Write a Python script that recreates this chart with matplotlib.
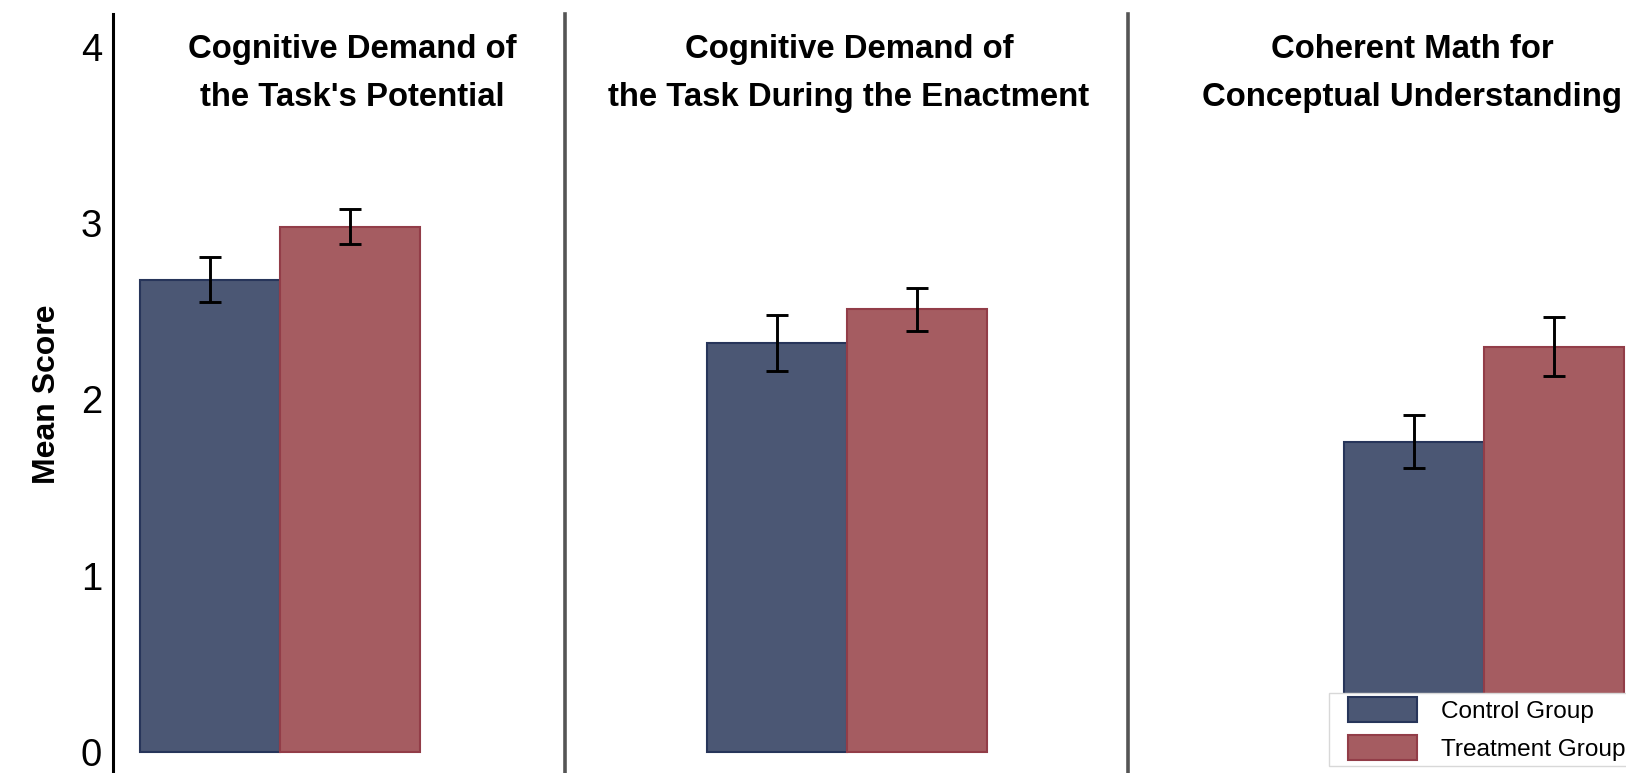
import matplotlib
matplotlib.use("Agg")
import matplotlib.pyplot as plt
from matplotlib.patches import Rectangle
from matplotlib.legend_handler import HandlerPatch

plt.rcParams['font.family'] = ['Liberation Sans', 'DejaVu Sans']

# Data
panel_titles = [
    "Cognitive Demand of\nthe Task's Potential",
    "Cognitive Demand of\nthe Task During the Enactment",
    "Coherent Math for\nConceptual Understanding",
]
groups = ["Control Group", "Treatment Group"]
control_means = [2.68, 2.32, 1.76]
treatment_means = [2.98, 2.51, 2.30]
control_err = [0.125, 0.16, 0.15]
treatment_err = [0.10, 0.12, 0.17]
y_ticks = [0, 1, 2, 3, 4]

# Styling
fill_colors = ["#4b5774", "#a55c61"]
edge_colors = ["#27355a", "#923d48"]
W, H = 1626, 773
fig = plt.figure(figsize=(W / 100, H / 100), dpi=100)

# Panel boxes in pixels (left, right) and x limits in bar-width units
panel_px = [(113, 565), (565, 1128), (1128, 1626)]
panel_xlim = [(-1.193, 2.036), (-2.014, 2.007), (-2.543, 1.014)]
title_x_px = [352, 849, 1412]
ylim = (-0.119, 4.186)
top_frac = 1 - 14 / H

for i in range(3):
    l, r = panel_px[i]
    ax = fig.add_axes([l / W, 0, (r - l) / W, top_frac])
    ax.set_xlim(*panel_xlim[i])
    ax.set_ylim(*ylim)
    means = [control_means[i], treatment_means[i]]
    errs = [control_err[i], treatment_err[i]]
    for j in range(2):
        x = -0.5 + j
        ax.bar(x, means[j], width=1.0, color=fill_colors[j],
               edgecolor=edge_colors[j], linewidth=1.5, zorder=2)
        ax.errorbar(x, means[j], yerr=errs[j], fmt="none", ecolor="black",
                    elinewidth=2.1, capsize=7.6, capthick=2.1, zorder=3)
    for s in ["top", "right", "bottom"]:
        ax.spines[s].set_visible(False)
    ax.spines["left"].set_linewidth(2.2 if i == 0 else 2.6)
    ax.spines["left"].set_color("black" if i == 0 else "#555555")
    ax.set_xticks([])
    if i == 0:
        ax.set_yticks(y_ticks)
        ax.set_yticklabels([str(t) for t in y_ticks], fontsize=27.5)
        ax.tick_params(axis="y", length=0, pad=8)
    else:
        ax.set_yticks([])
    fig.text(title_x_px[i] / W, 1 - 73.5 / H, panel_titles[i], ha="center",
             va="center", fontsize=23.7, fontweight="bold", linespacing=1.72)

fig.text(47 / W, 1 - 394 / H, "Mean Score", rotation=90, ha="center",
         va="center", fontsize=23, fontweight="bold")


def inset_patch(legend, orig_handle, xdescent, ydescent, width, height, fontsize):
    inset = 10
    return Rectangle((-xdescent + inset, -ydescent - 1), width - inset, height + 2)


handles = [Rectangle((0, 0), 1, 1, facecolor=fill_colors[k],
                     edgecolor=edge_colors[k], linewidth=1.5) for k in range(2)]
leg = fig.legend(handles, groups, loc="lower left",
                 bbox_to_anchor=(1329 / W, 1 - 766 / H),
                 bbox_transform=fig.transFigure, fontsize=17.6, frameon=True,
                 fancybox=False, framealpha=1.0, borderpad=0.22, borderaxespad=0,
                 handlelength=3.4, handleheight=1.0, handletextpad=0.97,
                 labelspacing=0.55,
                 handler_map={Rectangle: HandlerPatch(patch_func=inset_patch)})
leg.get_frame().set_edgecolor("#d8d8d8")
leg.get_frame().set_linewidth(1.0)

fig.savefig("out.png", dpi=100, facecolor="white")
